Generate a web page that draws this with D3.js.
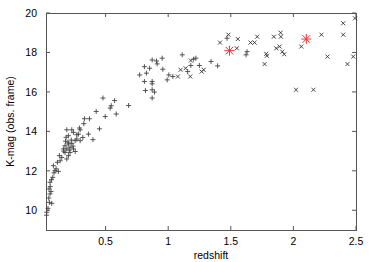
<!DOCTYPE html>
<html>
<head>
<meta charset="utf-8">
<script src="https://cdn.jsdelivr.net/npm/d3@7"></script>
<style>
  body { margin: 0; background: #fff; }
  text { font-family: "Liberation Sans", Arial, sans-serif; fill: #000; }
</style>
</head>
<body>
<div id="vis"></div>
<script>
// low redshift sample, drawn with "+"
const plusZ = [0.030,0.028,0.040,0.051,0.070,0.046,0.056,0.064,0.048,0.058,0.056,0.068,0.078,0.096,0.123,0.088,0.105,0.083,0.115,0.137,
  0.150,0.131,0.176,0.203,0.190,0.216,0.257,0.165,0.216,0.176,0.203,0.230,0.243,0.190,0.163,0.257,0.226,0.297,0.200,0.240,
  0.210,0.180,0.185,0.203,0.243,0.283,0.270,0.318,0.399,0.363,0.297,0.270,0.190,0.230,0.291,0.451,0.326,0.331,0.371,0.425,
  0.497,0.585,0.537,0.545,0.684,0.572,0.479,
  0.872,0.890,0.872,0.818,0.872,0.872,0.810,0.772,0.826,0.852,0.810,0.912,0.872,0.906,0.952,0.957,0.992,1.005,1.037,
  1.112,1.155,1.181,1.249,1.203,1.221,1.342,1.395,1.470,1.630,1.622];
const plusMag = [9.90,9.75,10.10,10.40,10.35,10.62,10.83,10.95,11.08,11.20,11.42,11.55,11.67,12.01,11.97,11.90,12.10,12.26,12.43,12.51,
  12.68,12.77,12.93,12.77,12.60,12.93,12.98,13.00,13.19,13.27,13.36,13.39,13.11,13.11,13.11,13.53,13.56,13.53,13.45,13.25,
  13.05,13.50,13.70,13.78,13.95,13.86,13.61,13.69,13.58,13.86,14.08,13.83,14.08,14.08,14.17,14.13,14.39,14.64,14.64,15.01,
  14.75,14.88,15.18,15.30,15.31,15.56,15.69,
  15.69,15.99,16.11,16.07,16.41,16.53,16.53,16.86,16.95,17.20,17.28,17.42,17.62,17.57,17.71,17.15,16.61,16.86,16.78,
  17.88,17.03,17.34,17.34,17.66,17.71,17.54,17.32,18.72,18.04,17.88];

// high redshift sample, drawn with "x"
const crossZ = [1.077,1.099,1.139,1.181,1.176,1.267,1.283,1.414,1.481,1.556,1.548,1.658,1.690,1.711,1.783,1.788,1.770,
  1.844,1.898,1.900,1.863,1.890,1.911,1.927,2.063,2.224,2.272,2.021,2.160,2.398,2.398,2.432,2.478,2.492];
const crossMag = [16.78,17.12,17.20,17.59,16.78,17.03,17.12,18.50,18.90,18.68,18.21,18.50,18.50,18.80,17.93,17.83,17.41,
  18.80,19.00,18.80,18.21,18.30,18.04,17.91,18.30,18.90,17.79,16.11,16.11,19.48,18.90,17.41,17.79,19.73];

// highlighted objects
const starZ = [1.489, 2.103];
const starMag = [18.09, 18.68];

const xTicks = [0.5, 1, 1.5, 2, 2.5];
const yTicks = [10, 12, 14, 16, 18, 20];

const width = 374, height = 262;
const margin = {top: 13, right: 18, bottom: 32, left: 46};

const svg = d3.select('#vis').append('svg')
    .attr('width', width)
    .attr('height', height);

const x = d3.scaleLinear()
    .domain([0.024, 2.5])
    .range([margin.left, width - margin.right]);

const y = d3.scaleLinear()
    .domain([9, 20])
    .range([height - margin.bottom, margin.top]);

const axisColor = '#555';

// ticks (inward, mirrored on the opposite side)
const tk = 4;
svg.append('g')
  .selectAll('line')
  .data(xTicks)
  .join('line')
    .attr('x1', d => x(d)).attr('x2', d => x(d))
    .attr('y1', y(9)).attr('y2', y(9) - tk)
    .attr('stroke', axisColor);
svg.append('g')
  .selectAll('line')
  .data(xTicks)
  .join('line')
    .attr('x1', d => x(d)).attr('x2', d => x(d))
    .attr('y1', y(20)).attr('y2', y(20) + tk)
    .attr('stroke', axisColor);
svg.append('g')
  .selectAll('line')
  .data(yTicks)
  .join('line')
    .attr('x1', x.range()[0]).attr('x2', x.range()[0] + tk)
    .attr('y1', d => y(d)).attr('y2', d => y(d))
    .attr('stroke', axisColor);
svg.append('g')
  .selectAll('line')
  .data(yTicks)
  .join('line')
    .attr('x1', x.range()[1]).attr('x2', x.range()[1] - tk)
    .attr('y1', d => y(d)).attr('y2', d => y(d))
    .attr('stroke', axisColor);

// tick labels
svg.append('g')
  .selectAll('text')
  .data(xTicks)
  .join('text')
    .attr('x', d => x(d))
    .attr('y', y(9) + 15)
    .attr('text-anchor', 'middle')
    .attr('font-size', 10.5)
    .text(d => d);
svg.append('g')
  .selectAll('text')
  .data(yTicks)
  .join('text')
    .attr('x', x.range()[0] - 9)
    .attr('y', d => y(d) + 4)
    .attr('text-anchor', 'end')
    .attr('font-size', 10.5)
    .text(d => d);

// frame
svg.append('rect')
    .attr('x', x.range()[0] + 0.5)
    .attr('y', y(20) + 0.5)
    .attr('width', x.range()[1] - x.range()[0])
    .attr('height', y(9) - y(20))
    .attr('fill', 'none')
    .attr('stroke', axisColor);

// axis titles
svg.append('text')
    .attr('x', 211)
    .attr('y', 259)
    .attr('text-anchor', 'middle')
    .attr('font-size', 10.5)
    .text('redshift');
svg.append('text')
    .attr('transform', `translate(14, ${(y(9) + y(20)) / 2}) rotate(-90)`)
    .attr('text-anchor', 'middle')
    .attr('font-size', 10.5)
    .text('K-mag (obs. frame)');

const plusData = d3.zip(plusZ, plusMag);
const crossData = d3.zip(crossZ, crossMag);
const starData = d3.zip(starZ, starMag);

const s = 2.5;
svg.append('g')
  .selectAll('path')
  .data(plusData)
  .join('path')
    .attr('d', ([z, m]) => `M${x(z) - s},${y(m)}H${x(z) + s}M${x(z)},${y(m) - s}V${y(m) + s}`)
    .attr('stroke', '#444')
    .attr('stroke-width', 0.9)
    .attr('fill', 'none');

const c = 2;
svg.append('g')
  .selectAll('path')
  .data(crossData)
  .join('path')
    .attr('d', ([z, m]) => `M${x(z) - c},${y(m) - c}L${x(z) + c},${y(m) + c}M${x(z) - c},${y(m) + c}L${x(z) + c},${y(m) - c}`)
    .attr('stroke', '#333')
    .attr('stroke-width', 0.9)
    .attr('fill', 'none');

const r = 5;
svg.append('g')
  .selectAll('path')
  .data(starData)
  .join('path')
    .attr('d', ([z, m]) => {
      const cx = x(z), cy = y(m);
      return `M${cx - r},${cy}H${cx + r}M${cx},${cy - r}V${cy + r}` +
        `M${cx - r * 0.75},${cy - r * 0.75}L${cx + r * 0.75},${cy + r * 0.75}` +
        `M${cx - r * 0.75},${cy + r * 0.75}L${cx + r * 0.75},${cy - r * 0.75}`;
    })
    .attr('stroke', '#f03030')
    .attr('stroke-width', 1)
    .attr('fill', 'none');
</script>
</body>
</html>
